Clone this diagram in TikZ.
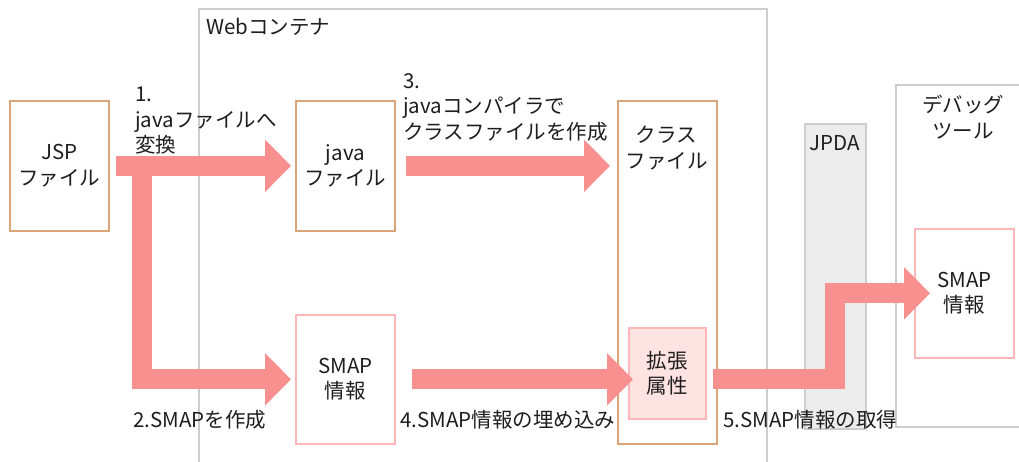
\documentclass[tikz,border=0pt]{standalone}
\usepackage{fontspec}
\setmainfont{Noto Sans CJK JP}
\usetikzlibrary{arrows.meta,calc}
\definecolor{boxorange}{RGB}{218,165,120}
\definecolor{boxpink}{RGB}{255,182,182}
\definecolor{extfill}{RGB}{255,226,226}
\definecolor{arrowpink}{RGB}{248,144,144}
\definecolor{grayline}{RGB}{205,205,205}
\definecolor{jpdafill}{RGB}{236,236,236}
\definecolor{txt}{RGB}{30,30,30}
\begin{document}
\begin{tikzpicture}[x=1pt,y=-1pt,
  every node/.style={font=\fontsize{20.5pt}{25.5pt}\selectfont, text=txt},
  filebox/.style={draw=boxorange, line width=1.6pt, fill=white, anchor=north west, inner sep=0pt, minimum width=99pt, minimum height=130pt, align=center},
  infobox/.style={draw=boxpink, line width=1.6pt, fill=white, anchor=north west, inner sep=0pt, minimum width=99pt, minimum height=129pt, align=center},
  lbl/.style={anchor=west, inner sep=0pt, align=left},
  bigarrow/.style={draw=arrowpink, line width=20pt, line cap=butt, line join=miter, -{Triangle[length=26pt,width=51pt]}}
]
\useasboundingbox (0,0) rectangle (1019,461);
\fill[white] (0,0) rectangle (1019,461);

% Web container
\draw[grayline, line width=1.6pt] (199,470) -- (199,9) -- (767,9) -- (767,470);
\node[lbl] (webl) at (206,27) {Webコンテナ};

% debug tool frame
\draw[grayline, line width=1.6pt] (1030,85) -- (896,85) -- (896,427) -- (1030,427);
\node[align=center, inner sep=0pt] (dbgl) at (963,117) {デバッグ\\ツール};

% JPDA
\node[draw=grayline, fill=jpdafill, line width=1.6pt, anchor=north west, inner sep=0pt, minimum width=61pt, minimum height=305pt] (jpda) at (804,123) {};
\node[inner sep=0pt] (jpdal) at (834.5,143) {JPDA};

% boxes
\node[filebox] (jsp) at (9,100) {JSP\\ファイル};
\node[filebox] (javaf) at (295,100) {java\\ファイル};
\node[filebox, minimum height=343pt] (cls) at (617,100) {};
\node[align=center, inner sep=0pt] (clsl) at (666.5,148) {クラス\\ファイル};
\node[infobox, fill=extfill, minimum width=77pt, minimum height=91pt] (ext) at (628,327) {拡張\\属性};
\node[infobox] (smapA) at (295,314) {SMAP\\情報};
\node[infobox] (smapB) at (914,228) {SMAP\\情報};

% arrows
\coordinate (br) at (142,165);
\draw[bigarrow, shorten <=6pt, shorten >=4pt] (jsp.east) -- (javaf.west);
\draw[bigarrow, shorten >=4pt] (br) |- (smapA.west);
\draw[bigarrow, shorten <=10pt, shorten >=7pt] (javaf.east) -- (cls.west |- javaf.east);
\draw[bigarrow, shorten <=16pt, shorten >=-5pt] (smapA.east) -- (ext.west |- smapA.east);
\draw[bigarrow, shorten <=6pt, shorten >=-16pt] (ext.east |- smapA.east) -| (jpda.center |- smapB.west) -- (smapB.west);

% labels
\node[lbl] (l1) at (135,121) {1.\\javaファイルへ\\変換};
\node[lbl] (l3) at (403,107) {3.\\javaコンパイラで\\クラスファイルを作成};
\node[lbl] (l2) at (133,420) {2.SMAPを作成};
\node[lbl] (l4) at (400,420) {4.SMAP情報の埋め込み};
\node[lbl] (l5) at (723,420) {5.SMAP情報の取得};
\end{tikzpicture}
\end{document}
